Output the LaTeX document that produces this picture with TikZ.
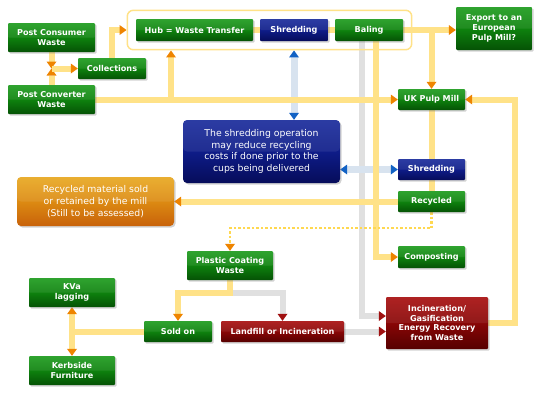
\documentclass[tikz,border=0pt]{standalone}
\usepackage{fontspec}
\setmainfont{DejaVu Sans}
\usepackage{xcolor}
\usepackage{tikz}
\usetikzlibrary{positioning,arrows.meta,fit,backgrounds,shadows}

\definecolor{gTop}{HTML}{1E9C1E}
\definecolor{gMid}{HTML}{0E820E}
\definecolor{gBot}{HTML}{055205}
\definecolor{bTop}{HTML}{1A2C9C}
\definecolor{bMid}{HTML}{0E1C88}
\definecolor{bBot}{HTML}{060C5A}
\definecolor{rTop}{HTML}{A81010}
\definecolor{rMid}{HTML}{880606}
\definecolor{rBot}{HTML}{560000}
\definecolor{oTop}{HTML}{E8A820}
\definecolor{oMid}{HTML}{DC8A12}
\definecolor{oBot}{HTML}{C8620A}
\definecolor{lineY}{HTML}{FFE288}
\definecolor{lineYd}{HTML}{FFD850}
\definecolor{lineG}{HTML}{E0E0E0}
\definecolor{lineB}{HTML}{D8E3EF}
\definecolor{arrowO}{HTML}{EE8400}
\definecolor{arrowR}{HTML}{A01010}
\definecolor{arrowB}{HTML}{1262C4}

\begin{document}
\begin{tikzpicture}[
  x=1pt, y=-1pt,
  font=\fontsize{8.1}{9.7}\selectfont\bfseries,
  bx/.style    ={text=white, align=center, inner sep=0pt, rounded corners=1pt,
                 drop shadow={shadow xshift=1.5pt, shadow yshift=-1.5pt, opacity=0.35},
                 path picture={\fill[white, opacity=0.08]
                   (path picture bounding box.north west) rectangle (path picture bounding box.east);}},
  gbox/.style  ={bx, top color=gTop, bottom color=gBot, middle color=gMid},
  bbox/.style  ={bx, top color=bTop, bottom color=bBot, middle color=bMid},
  rbox/.style  ={bx, top color=rTop, bottom color=rBot, middle color=rMid},
  obox/.style  ={bx, rounded corners=4pt, top color=oTop, bottom color=oBot, middle color=oMid,
                 font=\fontsize{9.3}{11.7}\selectfont},
  notebox/.style={bbox, rounded corners=4pt, font=\fontsize{9.3}{11.7}\selectfont},
  hubfr/.style ={draw=lineY, line width=1.5pt, rounded corners=6pt},
  tipO/.style  ={-{Triangle[length=7pt, width=10pt, line width=0pt, color=arrowO]}},
  yl/.style    ={line width=6pt, draw=lineY, tipO},
  ylp/.style   ={line width=6pt, draw=lineY},
  yd/.style    ={line width=2.5pt, draw=lineYd, dash pattern=on 2.5pt off 2pt, tipO},
  gl/.style    ={line width=6pt, draw=lineG, -{Triangle[length=7pt, width=10pt, line width=0pt, color=arrowR]}},
  bl/.style    ={line width=7pt, draw=lineB,
                 {Triangle[length=7pt, width=10pt, line width=0pt, color=arrowB]}-{Triangle[length=7pt, width=10pt, line width=0pt, color=arrowB]}},
]
\useasboundingbox (0,0) rectangle (540,400);

% ---- sources (left) ----
\node[gbox, minimum width=87pt, minimum height=29pt] (pcw)  at ( 51.5, 37.5) {Post Consumer\\Waste};
\node[gbox, minimum width=68pt, minimum height=21pt] (coll) at (112.0, 68.5) {Collections};
\node[gbox, minimum width=87pt, minimum height=29pt] (pvw)  at ( 51.5, 99.5) {Post Converter\\Waste};
\coordinate (j1) at (51.5,68.5);
\coordinate (hb) at (171,99.5);

% ---- hub ----
\node[gbox, minimum width=117pt, minimum height=22pt] (hub)    at (194.5, 30) {Hub = Waste Transfer};
\node[bbox, minimum width=68pt,  minimum height=22pt] (shredA) at (294.0, 30) {Shredding};
\node[gbox, minimum width=68pt,  minimum height=22pt] (baling) at (369.0, 30) {Baling};
\node[hubfr, fit=(hub)(shredA)(baling), inner xsep=8.5pt, inner ysep=8.5pt] (hubframe) {};

% ---- mills ----
\node[gbox, minimum width=76pt, minimum height=43pt] (export) at (494.0, 28.5) {Export to an\\European\\Pulp Mill?};
\node[gbox, minimum width=67pt, minimum height=21pt] (ukmill) at (431.5, 99.5) {UK Pulp Mill};
\node[notebox, minimum width=157pt, minimum height=63pt] (note) at (261.5,151.5)
  {The shredding operation\\may reduce recycling\\costs if done prior to the\\cups being delivered};
\node[bbox, minimum width=67pt, minimum height=21pt] (shredB)  at (431.5,169.5) {Shredding};
\node[gbox, minimum width=67pt, minimum height=21pt] (recyc)   at (431.5,201.5) {Recycled};
\node[obox, minimum width=157pt, minimum height=49pt] (sold)   at ( 95.5,201.5)
  {Recycled material sold\\or retained by the mill\\(Still to be assessed)};
\node[gbox, minimum width=67pt, minimum height=22pt] (compost) at (431.5,257.0) {Composting};

% ---- coating waste (bottom) ----
\node[gbox, minimum width=86pt,  minimum height=29pt] (plastic)  at (230.0,265.5) {Plastic Coating\\Waste};
\node[gbox, minimum width=86pt,  minimum height=29pt] (kva)      at ( 72.0,292.5) {KVa\\lagging};
\node[gbox, minimum width=68pt,  minimum height=21pt] (soldon)   at (178.0,331.5) {Sold on};
\node[rbox, minimum width=123pt, minimum height=21pt] (landfill) at (282.5,331.5) {Landfill or Incineration};
\node[rbox, minimum width=102pt, minimum height=52pt] (incin)    at (437.0,323.0) {Incineration/\\Gasification\\Energy Recovery\\from Waste};
\node[gbox, minimum width=86pt,  minimum height=29pt] (kerb)     at ( 72.0,370.5) {Kerbside\\Furniture};

% ---- edges ----
\begin{scope}[on background layer]
  \fill[white] (0,0) rectangle (540,400);
  % waste to landfill / incineration
  \draw[gl] ([xshift=-7pt]baling.south) |- ([yshift=7pt]incin.west);
  \draw[gl] ([yshift=-13pt]plastic.south) -| (landfill.north);
  \draw[gl] (landfill.east) -- (landfill.east -| incin.west);
  % shredding note
  \draw[bl] (shredA |- hubframe.south) -- (shredA |- note.north);
  \draw[bl] (note.east |- shredB) -- (shredB.west);
  % main flow
  \draw[yl] (pcw.south) -- (j1);
  \draw[yl] (pvw.north) -- (j1);
  \draw[yl] (j1) -- (coll.west);
  \draw[yl] (coll.north) |- (hubframe.west);
  \draw[ylp] (hub) -- (shredA) -- (baling);
  \draw[yl] (baling.east) -- (baling.east -| export.west);
  \draw[yl] (baling.east -| ukmill.north) -- (ukmill.north);
  \draw[yl] (pvw.east) -- (pvw.east -| ukmill.west);
  \draw[yl] (hb) -- (hb |- hubframe.south);
  \draw[yl] ([xshift=7pt]baling.south) |- (compost.west);
  \draw[ylp] (ukmill.south) -- (recyc.north);
  \draw[yl] (recyc.west) -- (sold.east);
  \draw[yl] (incin.east) -- ++(27,0) |- (ukmill.east);
  \draw[yl] (plastic.south) -- ++(0,13) -| (soldon.north);
  \draw[ylp] (soldon.west) -- (soldon.west -| kva.south);
  \draw[yl] (soldon.west -| kva.south) -- (kva.south);
  \draw[yl] (soldon.west -| kva.south) -- (kerb.north);
  \draw[yd] (recyc.south) -- ++(0,16) -| (plastic.north);
\end{scope}
\end{tikzpicture}
\end{document}
